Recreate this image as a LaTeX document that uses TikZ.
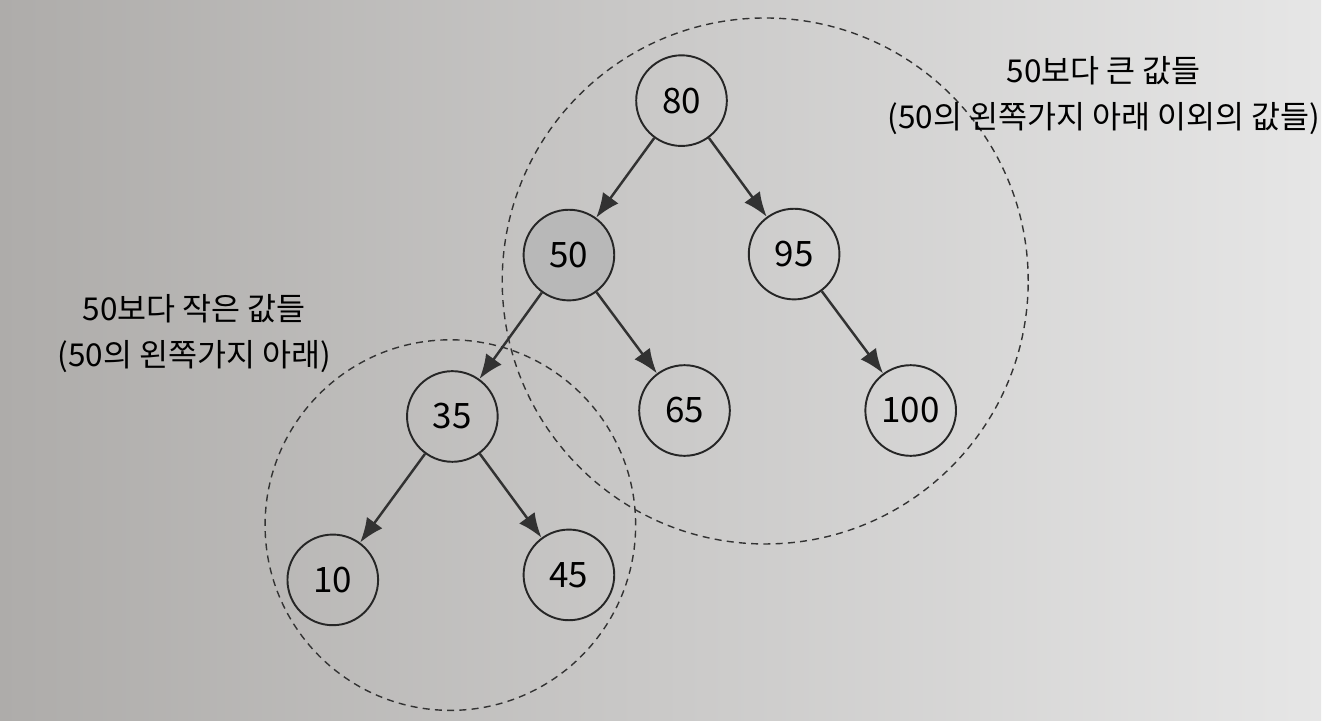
\documentclass[tikz,border=0pt]{standalone}
\usepackage{fontspec}
\setmainfont{Noto Sans CJK KR}
\usetikzlibrary{arrows.meta}

\definecolor{pageleft}{RGB}{174,172,170}
\definecolor{pagemid}{RGB}{220,220,219}
\definecolor{pageright}{RGB}{230,230,230}
\definecolor{rootgray}{RGB}{184,184,184}
\definecolor{edgegray}{RGB}{50,50,50}

\tikzset{
    treenode/.style={draw=black!85, circle, line width=1.1pt, inner sep=0pt,
        minimum size=1.82cm, font=\fontsize{20}{24}\selectfont},
    edge/.style={draw=edgegray, line width=1.4pt, -{Latex[length=14pt, width=11pt]}},
    region/.style={draw=black!80, line width=0.8pt, dash pattern=on 4pt off 3pt},
    note/.style={align=center, font=\fontsize{18}{26.5}\selectfont}
}

\begin{document}
\begin{tikzpicture}[x=0.02cm, y=-0.02cm]
    % Page
    \shade[left color=pageleft, middle color=pagemid, right color=pageright] (0,0) rectangle (1326,723);

    % Regions
    \draw[region] (768,282) circle[radius=5.28cm];
    \draw[region] (452,527) circle[radius=3.72cm];

    % Tree
    \node[treenode] (n80) at (684,101) {80};
    \node[treenode, fill=rootgray] (n50) at (571,256) {50};
    \node[treenode] (n95) at (797,255) {95};
    \node[treenode] (n35) at (454,418) {35};
    \node[treenode] (n65) at (687,412) {65};
    \node[treenode] (n100) at (914,412) {100};
    \node[treenode] (n10) at (334,582) {10};
    \node[treenode] (n45) at (571,577) {45};

    % Arrows
    \draw[edge] (n80) -- (n50);
    \draw[edge] (n80) -- (n95);
    \draw[edge] (n50) -- (n35);
    \draw[edge] (n50) -- (n65);
    \draw[edge] (n95) -- (n100);
    \draw[edge] (n35) -- (n10);
    \draw[edge] (n35) -- (n45);

    % Labels
    \node[note] (bigger) at (1108,96) {50보다 큰 값들\\(50의 왼쪽가지 아래 이외의 값들)};
    \node[note] (smaller) at (195,335) {50보다 작은 값들\\(50의 왼쪽가지 아래)};
\end{tikzpicture}
\end{document}
